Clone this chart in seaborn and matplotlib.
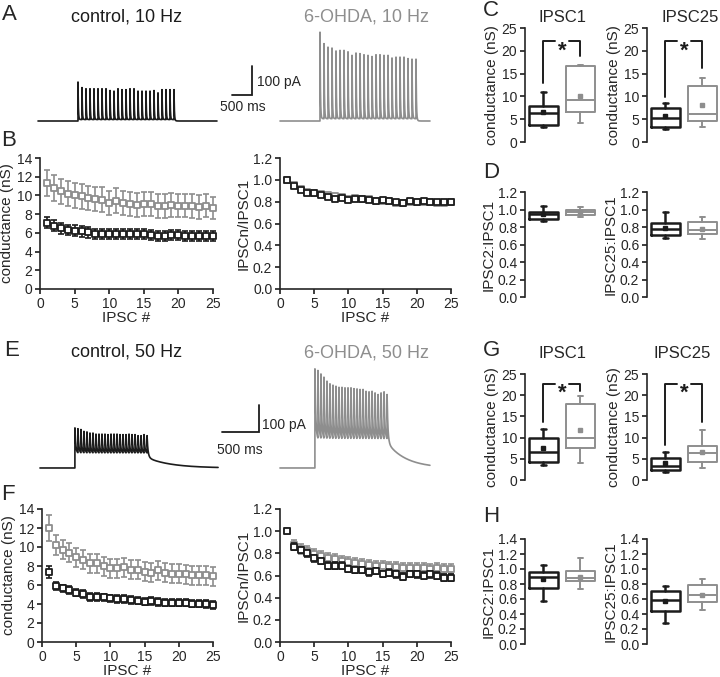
import numpy as np
import pandas as pd
import seaborn as sns
import matplotlib
matplotlib.use('Agg')
import matplotlib.pyplot as plt
from matplotlib.ticker import FormatStrFormatter

# ---------------- data ----------------
ipsc_n = np.arange(1, 26)

# B: 10 Hz, conductance (nS)
b_ctrl_mean = [7.1, 6.75, 6.5, 6.3, 6.25, 6.15, 6.05, 5.9, 5.9, 5.9, 5.85, 5.9, 5.85,
               5.85, 5.85, 5.8, 5.7, 5.65, 5.8, 5.75, 5.7, 5.7, 5.7, 5.7, 5.65]
b_ctrl_sem = [0.6, 0.6, 0.6, 0.55, 0.55, 0.55, 0.55, 0.55, 0.55, 0.55, 0.55, 0.55, 0.55,
              0.55, 0.55, 0.55, 0.55, 0.55, 0.55, 0.55, 0.55, 0.55, 0.55, 0.55, 0.55]
b_ohda_mean = [11.3, 10.8, 10.45, 10.2, 10.0, 9.9, 9.75, 9.6, 9.55, 9.2, 9.45, 9.2, 9.1,
               9.0, 9.1, 9.05, 8.9, 8.9, 9.0, 8.9, 8.9, 8.85, 8.75, 8.9, 8.65]
b_ohda_sem = [1.4, 1.35, 1.35, 1.3, 1.3, 1.3, 1.3, 1.3, 1.3, 1.3, 1.3, 1.3, 1.3,
              1.3, 1.3, 1.3, 1.3, 1.3, 1.3, 1.25, 1.25, 1.25, 1.25, 1.25, 1.2]
# B: 10 Hz, IPSCn/IPSC1
b_ctrl_norm = [1.0, 0.945, 0.91, 0.88, 0.875, 0.86, 0.84, 0.82, 0.835, 0.815, 0.82, 0.825, 0.815,
               0.81, 0.815, 0.805, 0.795, 0.785, 0.81, 0.80, 0.805, 0.80, 0.80, 0.795, 0.80]
b_ohda_norm = [1.0, 0.955, 0.92, 0.89, 0.88, 0.87, 0.86, 0.85, 0.845, 0.825, 0.835, 0.82, 0.82,
               0.81, 0.81, 0.81, 0.79, 0.785, 0.80, 0.80, 0.80, 0.80, 0.79, 0.79, 0.80]
b_norm_sem = [0.0] + [0.015] * 24

# F: 50 Hz, conductance (nS)
f_ctrl_mean = [7.35, 5.9, 5.65, 5.45, 5.2, 5.05, 4.75, 4.75, 4.7, 4.6, 4.5, 4.5, 4.4,
               4.35, 4.25, 4.3, 4.2, 4.15, 4.15, 4.15, 4.15, 4.05, 4.05, 4.0, 3.9]
f_ctrl_sem = [0.6] + [0.4] * 24
f_ohda_mean = [12.0, 10.2, 9.7, 9.4, 8.9, 8.65, 8.3, 8.3, 8.0, 7.75, 7.75, 7.85, 7.6,
               7.6, 7.4, 7.3, 7.55, 7.3, 7.2, 7.2, 7.15, 7.05, 7.05, 7.05, 6.9]
f_ohda_sem = [1.4, 1.05, 1.0, 1.0, 1.0, 1.0, 1.0, 1.0, 1.0, 1.0, 1.0, 1.0, 1.0,
              1.0, 1.0, 1.0, 1.0, 1.0, 1.0, 1.0, 1.0, 1.0, 1.0, 1.0, 1.0]
# F: 50 Hz, IPSCn/IPSC1
f_ctrl_norm = [1.0, 0.86, 0.83, 0.80, 0.755, 0.73, 0.69, 0.69, 0.69, 0.66, 0.65, 0.65, 0.63,
               0.64, 0.615, 0.625, 0.61, 0.59, 0.615, 0.61, 0.60, 0.61, 0.60, 0.58, 0.58]
f_ohda_norm = [1.0, 0.875, 0.84, 0.82, 0.795, 0.775, 0.76, 0.745, 0.735, 0.72, 0.715, 0.70, 0.695,
               0.685, 0.685, 0.675, 0.675, 0.67, 0.67, 0.665, 0.665, 0.66, 0.665, 0.655, 0.655]
f_ctrl_norm_sem = [0.0] + [0.03] * 24
f_ohda_norm_sem = [0.0] + [0.045] * 24

# box plots: [whisker low, Q1, median, Q3, whisker high, mean]
c1_ctrl = [3.3, 3.7, 6.3, 8.0, 11.0, 6.6]
c1_ohda = [4.2, 6.6, 9.3, 16.7, 16.9, 10.1]
c25_ctrl = [2.9, 3.3, 5.3, 7.35, 8.6, 5.7]
c25_ohda = [3.3, 4.6, 6.25, 12.3, 14.0, 8.1]
d2_ctrl = [0.865, 0.895, 0.95, 0.971, 1.036, 0.95]
d2_ohda = [0.92, 0.94, 0.971, 0.998, 1.03, 0.975]
d25_ctrl = [0.674, 0.705, 0.773, 0.846, 0.97, 0.79]
d25_ohda = [0.667, 0.724, 0.77, 0.857, 0.914, 0.78]
g1_ctrl = [3.55, 4.2, 6.7, 10.0, 12.07, 7.5]
g1_ohda = [4.1, 7.65, 10.0, 17.9, 19.7, 11.7]
g25_ctrl = [1.97, 2.37, 3.3, 5.13, 6.7, 4.1]
g25_ohda = [2.9, 4.3, 6.3, 8.1, 11.7, 6.7]
h2_ctrl = [0.576, 0.746, 0.893, 0.955, 1.058, 0.866]
h2_ohda = [0.732, 0.835, 0.88, 0.969, 1.147, 0.9]
h25_ctrl = [0.286, 0.446, 0.589, 0.71, 0.777, 0.567]
h25_ohda = [0.455, 0.554, 0.647, 0.79, 0.87, 0.656]
# significance brackets: [left leg bottom, top, right leg bottom]
c1_bracket = [12.9, 22.1, 18.75]
c25_bracket = [9.9, 22.1, 16.2]
g1_bracket = [13.6, 22.6, 21.0]
g25_bracket = [8.3, 22.6, 13.6]

# example traces: IPSC peak amplitudes (pA)
a_ctrl_peaks = [133, 114, 110, 110, 110, 110, 110, 110, 104, 102, 110, 107, 107,
                110, 110, 102, 102, 102, 102, 104, 96, 107, 107, 107, 107]
a_ohda_peaks = [303, 264, 252, 249, 239, 241, 241, 236, 224, 232, 230, 226, 224,
                220, 226, 226, 224, 224, 215, 218, 218, 218, 213, 211, 211]
e_ctrl_peaks = [150, 147, 144, 137, 135, 131, 131, 127, 127, 127, 127, 125, 127,
                127, 127, 125, 125, 125, 127, 125, 125, 121, 121, 125, 121]
e_ohda_peaks = [371, 365, 352, 340, 325, 315, 310, 306, 302, 302, 300, 300, 300,
                297, 296, 294, 294, 287, 285, 287, 281, 275, 281, 285, 275]

# ---------------- style ----------------
sns.set_style('ticks')
plt.rcParams['font.family'] = ['Liberation Sans', 'DejaVu Sans']
plt.rcParams['axes.linewidth'] = 1.2

BLACK = '#1c1c1c'
GRAY = '#8e8e8e'
TICK = 10
LABEL = 11

W, H = 720, 677
fig = plt.figure(figsize=(W / 100, H / 100), dpi=100)


def px_axes(x0, y0, x1, y1):
    return fig.add_axes([x0 / W, 1 - y1 / H, (x1 - x0) / W, (y1 - y0) / H])


def px_text(x, y, s, **kw):
    fig.text(x / W, 1 - y / H, s, **kw)


def style_axes(ax):
    sns.despine(ax=ax)
    ax.tick_params(direction='out', length=3.5, width=1.2, pad=2, labelsize=TICK, color=BLACK)


def make_trace(peaks, floor, onset, interval, length, tau, slow_frac, slow_tau, dt=0.5):
    t = np.arange(0, length, dt)
    y = np.zeros_like(t)
    starts = onset + interval * np.arange(len(peaks))
    ends = np.append(starts[1:], length)
    for t0, t1, amp in zip(starts, ends, peaks):
        m = (t >= t0) & (t < t1)
        s = t[m] - t0
        y[m] = floor + (amp - floor) * np.exp(-s / tau)
    m = t >= starts[-1]
    s = t[m] - starts[-1]
    y[m] += floor * ((1 - slow_frac) * np.exp(-s / 25) + slow_frac * np.exp(-s / slow_tau) - 1)
    return t, y


def trace_row(ax, ctrl, ohda, offset, scale_x, scale_y, txt_pa, txt_ms):
    t, y = ctrl
    sns.lineplot(x=t, y=y, ax=ax, color=BLACK, lw=1.2, estimator=None, sort=False)
    t, y = ohda
    sns.lineplot(x=t + offset, y=y, ax=ax, color=GRAY, lw=1.2, estimator=None, sort=False)
    ax.plot([scale_x[0], scale_x[1], scale_x[1]], [scale_y[0], scale_y[0], scale_y[1]],
            color=BLACK, lw=1.3, solid_joinstyle='miter')
    ax.text(*txt_pa, '100 pA', fontsize=TICK, ha='left', va='center')
    ax.text(*txt_ms, '500 ms', fontsize=TICK, ha='center', va='center')
    ax.axis('off')


def series_panel(ax, gray, black, ymax, ystep, fmt, ylabel):
    for (mean, sem), col, z in [(gray, GRAY, 2), (black, BLACK, 4)]:
        ax.errorbar(ipsc_n, mean, yerr=sem, fmt='none', ecolor=col, elinewidth=1.2,
                    capsize=2.2, capthick=1.2, zorder=z, clip_on=False)
        sns.scatterplot(x=ipsc_n, y=mean, ax=ax, marker='s', s=22, color='white',
                        edgecolor=col, linewidth=1.3, zorder=z + 1, clip_on=False)
    ax.set_xlim(0, 25)
    ax.set_xticks(range(0, 26, 5))
    ax.set_ylim(0, ymax)
    ax.set_yticks(np.arange(0, ymax + 1e-9, ystep))
    ax.yaxis.set_major_formatter(FormatStrFormatter(fmt))
    ax.set_xlabel('IPSC #', fontsize=LABEL, labelpad=0)
    ax.set_ylabel(ylabel, fontsize=LABEL, labelpad=2)
    style_axes(ax)


def box_panel(ax, ctrl, ohda, ymax, ystep, fmt, ylabel, bracket=None):
    for pos, vals, col, lw in [(0, ctrl, BLACK, 1.8), (1, ohda, GRAY, 1.4)]:
        lo, q1, med, q3, hi, mean = vals
        st = dict(whislo=lo, q1=q1, med=med, q3=q3, whishi=hi, mean=mean, fliers=[])
        line = dict(color=col, linewidth=lw)
        ax.bxp([st], positions=[pos], widths=0.78, capwidths=0.14, showmeans=True,
               showfliers=False, boxprops=line, whiskerprops=line, capprops=line,
               medianprops=line, manage_ticks=False,
               meanprops=dict(marker='s', markersize=2.2, markerfacecolor=col,
                              markeredgecolor=col))
    if bracket is not None:
        left, top, right = bracket
        ax.plot([0, 0, 0.32], [left, top, top], color=BLACK, lw=1.4, clip_on=False)
        ax.plot([0.68, 1, 1], [top, top, right], color=BLACK, lw=1.4, clip_on=False)
        ax.text(0.5, top - ymax * 0.085, '*', ha='center', va='center', fontsize=16,
                fontweight='bold', color=BLACK)
    ax.set_xlim(-0.5, 1.45)
    ax.set_ylim(0, ymax)
    ax.set_yticks(np.arange(0, ymax + 1e-9, ystep))
    ax.yaxis.set_major_formatter(FormatStrFormatter(fmt))
    ax.set_xticks([])
    ax.set_ylabel(ylabel, fontsize=LABEL, labelpad=2)
    style_axes(ax)
    ax.spines['bottom'].set_visible(False)


# ---------------- A: 10 Hz traces ----------------
ax = px_axes(30, 25, 440, 130)
a_ctrl = make_trace(a_ctrl_peaks, 5, 1000, 100, 4475, 9, 0.0, 50)
a_ohda = make_trace(a_ohda_peaks, 8, 1000, 100, 3750, 10, 0.0, 50)
trace_row(ax, a_ctrl, a_ohda, 6050, (4850, 5350), (89, 189), (5475, 133), (5125, 48))
ax.set_xlim(-200, 10050)
ax.set_ylim(-30.7, 327.6)

# ---------------- E: 50 Hz traces ----------------
ax = px_axes(30, 355, 440, 478)
e_ctrl = make_trace(e_ctrl_peaks, 55, 477, 41, 2430, 11, 0.7, 330)
e_ohda = make_trace(e_ohda_peaks, 106, 477, 41, 2046, 11, 0.9, 260)
trace_row(ax, e_ctrl, e_ohda, 3274, (2483, 2983), (135, 235), (3030, 161), (2728, 67))
ax.set_xlim(-136, 5457)
ax.set_ylim(-37.5, 423)

# ---------------- B / F ----------------
series_panel(px_axes(40, 158, 213, 289), (b_ohda_mean, b_ohda_sem), (b_ctrl_mean, b_ctrl_sem),
             14, 2, '%d', 'conductance (nS)')
series_panel(px_axes(280, 158, 451, 289), (b_ohda_norm, b_norm_sem), (b_ctrl_norm, b_norm_sem),
             1.2, 0.2, '%.1f', 'IPSCn/IPSC1')
series_panel(px_axes(42, 509, 213, 642), (f_ohda_mean, f_ohda_sem), (f_ctrl_mean, f_ctrl_sem),
             14, 2, '%d', 'conductance (nS)')
series_panel(px_axes(280, 509, 451, 642), (f_ohda_norm, f_ohda_norm_sem), (f_ctrl_norm, f_ctrl_norm_sem),
             1.2, 0.2, '%.1f', 'IPSCn/IPSC1')

# ---------------- C / D / G / H ----------------
box_panel(px_axes(525, 28, 597, 142), c1_ctrl, c1_ohda, 25, 5, '%d', 'conductance (nS)', c1_bracket)
box_panel(px_axes(647, 28, 719, 142), c25_ctrl, c25_ohda, 25, 5, '%d', 'conductance (nS)', c25_bracket)
box_panel(px_axes(525, 192, 597, 297), d2_ctrl, d2_ohda, 1.2, 0.2, '%.1f', 'IPSC2:IPSC1')
box_panel(px_axes(647, 192, 719, 297), d25_ctrl, d25_ohda, 1.2, 0.2, '%.1f', 'IPSC25:IPSC1')
box_panel(px_axes(525, 374, 597, 480), g1_ctrl, g1_ohda, 25, 5, '%d', 'conductance (nS)', g1_bracket)
box_panel(px_axes(647, 374, 719, 480), g25_ctrl, g25_ohda, 25, 5, '%d', 'conductance (nS)', g25_bracket)
box_panel(px_axes(525, 539, 597, 644), h2_ctrl, h2_ohda, 1.4, 0.2, '%.1f', 'IPSC2:IPSC1')
box_panel(px_axes(647, 539, 719, 644), h25_ctrl, h25_ohda, 1.4, 0.2, '%.1f', 'IPSC25:IPSC1')

# ---------------- titles and panel letters ----------------
px_text(127, 17, 'control, 10 Hz', fontsize=13, color=BLACK, ha='center', va='center')
px_text(367, 17, '6-OHDA, 10 Hz', fontsize=13, color=GRAY, ha='center', va='center')
px_text(127, 352, 'control, 50 Hz', fontsize=13, color=BLACK, ha='center', va='center')
px_text(367, 353, '6-OHDA, 50 Hz', fontsize=13, color=GRAY, ha='center', va='center')
px_text(562, 17, 'IPSC1', fontsize=12, ha='center', va='center')
px_text(690, 17, 'IPSC25', fontsize=12, ha='center', va='center')
px_text(562, 353, 'IPSC1', fontsize=12, ha='center', va='center')
px_text(682, 353, 'IPSC25', fontsize=12, ha='center', va='center')

for letter, x, y in [('A', 2, 14), ('B', 1, 141), ('C', 483, 11), ('D', 483, 173),
                     ('E', 4, 351), ('F', 1, 495), ('G', 483, 351), ('H', 483, 517)]:
    px_text(x, y, letter, fontsize=16, ha='left', va='center')

fig.savefig('out.png', dpi=100, facecolor='white')
